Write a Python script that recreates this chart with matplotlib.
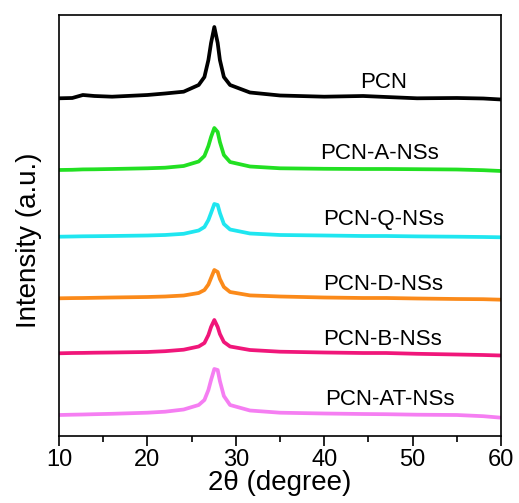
import matplotlib
matplotlib.use('Agg')
import matplotlib.pyplot as plt
from matplotlib.ticker import MultipleLocator

plt.rcParams['font.family'] = ['Liberation Sans', 'DejaVu Sans']

# 2theta points (denser around the (002) peak)
two_theta = [10, 11.5, 12.7, 14, 16, 20, 22, 24.1, 25.8, 26.45, 26.9, 27.2,
             27.57, 27.95, 28.2, 28.65, 29.35, 31.6, 35, 40, 44.4, 47, 50.5,
             55, 58, 60]

samples = ['PCN', 'PCN-A-NSs', 'PCN-Q-NSs', 'PCN-D-NSs', 'PCN-B-NSs', 'PCN-AT-NSs']
colors = ['#000000', '#22e022', '#1fe6f0', '#fb8a1a', '#f0167a', '#f57ef2']

pcn = [1.7, 2.0, 5.0, 4.0, 3.3, 5.0, 6.5, 8.3, 15, 23, 40, 57,
       73, 57, 40, 23, 15, 7.5, 4.5, 3.3, 4.0, 3.0, 1.7,
       2.0, 1.5, 0.5]
pcn_a = [2.0, 2.2, 2.6, 2.7, 3.0, 3.7, 4.3, 6.0, 10.5, 16, 26, 35,
         44, 40, 30, 17, 10, 5.5, 3.7, 3.2, 3.0, 3.0, 2.8,
         2.5, 1.8, 1.0]
pcn_q = [1.3, 1.5, 1.7, 1.8, 2.0, 2.5, 3.0, 4.2, 7.5, 11, 18, 25,
         34, 33, 25, 14, 8.5, 4.5, 3.0, 2.5, 2.0, 2.0, 1.6,
         1.3, 1.0, 0.7]
pcn_d = [1.7, 1.9, 2.0, 2.2, 2.5, 3.0, 3.5, 4.5, 7.0, 10, 15.5, 22,
         30, 28, 21, 13, 8.0, 4.6, 3.5, 2.5, 2.0, 2.0, 1.5,
         1.0, 0.8, 0.3]
pcn_b = [2.7, 3.0, 3.1, 3.3, 3.5, 4.0, 4.8, 6.3, 9.5, 13, 21, 29,
         36, 29, 22, 14, 9.5, 6.0, 4.3, 3.5, 3.0, 3.0, 2.2,
         1.5, 1.0, 0.5]
pcn_at = [3.0, 3.3, 3.5, 3.8, 4.2, 5.3, 6.3, 8.5, 13, 18, 28, 38,
          49, 48, 37, 22, 13, 7.5, 5.3, 4.5, 4.0, 3.8, 3.3,
          3.0, 1.8, 0.3]
intensities = [pcn, pcn_a, pcn_q, pcn_d, pcn_b, pcn_at]

# vertical stacking of the patterns
offsets = [336, 264, 198, 136, 80, 18]
label_x = [46.7, 46.3, 46.7, 46.7, 46.6, 47.4]
label_y = [353, 282, 216, 151, 96, 36]


def build_graph():
    fig = plt.figure(figsize=(5.19, 5.03), dpi=100)
    ax = fig.add_axes([0.1137, 0.1332, 0.8516, 0.8370])

    for name, color, vals, off, lx, ly in zip(samples, colors, intensities,
                                              offsets, label_x, label_y):
        ax.plot(two_theta, [v + off for v in vals], color=color, lw=2.7,
                solid_joinstyle='round', solid_capstyle='butt')
        ax.text(lx, ly, name, ha='center', va='center', fontsize=16)

    ax.set_xlim(10, 60)
    ax.set_ylim(0, 421)
    ax.xaxis.set_major_locator(MultipleLocator(10))
    ax.xaxis.set_minor_locator(MultipleLocator(5))
    ax.tick_params(axis='x', which='major', direction='out', length=7,
                   width=1.2, labelsize=17, pad=2)
    ax.tick_params(axis='x', which='minor', direction='out', length=4, width=1.2)
    ax.set_yticks([])
    for sp in ax.spines.values():
        sp.set_linewidth(1.2)

    ax.set_xlabel('2θ (degree)', fontsize=20)
    ax.xaxis.set_label_coords(0.5, -0.081)
    ax.set_ylabel('Intensity (a.u.)', fontsize=20)
    ax.yaxis.set_label_coords(-0.038, 0.466)

    fig.savefig('out.png', dpi=100)


if __name__ == '__main__':
    build_graph()
